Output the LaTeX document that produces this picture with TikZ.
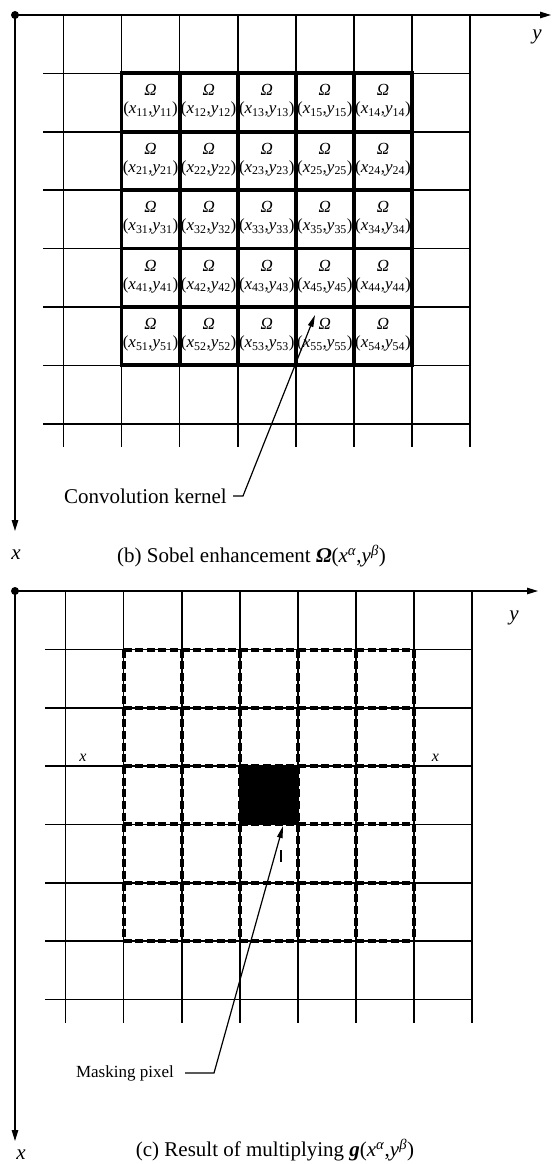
\documentclass[tikz,border=0pt]{standalone}
\usepackage{fontspec}
\setmainfont{Liberation Serif}
\usetikzlibrary{arrows.meta}
\tikzset{
  gridline/.style={line width=1.6pt},
  kernelline/.style={line width=3.8pt, line cap=rect},
  dashline/.style={line width=4pt, dash pattern=on 8pt off 3.6pt},
  axisline/.style={line width=1.3pt, -{Triangle[length=11pt,width=6.5pt]}},
  pointer/.style={line width=1.2pt, -{Triangle[length=12pt,width=5.5pt]}},
  celltext/.style={font=\fontsize{17}{19}\selectfont, inner sep=0pt},
  labeltext/.style={font=\fontsize{21}{24}\selectfont, inner sep=0pt},
  axlabel/.style={font=\fontsize{21}{24}\selectfont\itshape, inner sep=0pt},
  smalllabel/.style={font=\fontsize{16}{18}\selectfont\itshape, inner sep=0pt},
}
\begin{document}
\begin{tikzpicture}[x=1pt,y=-1pt]
\useasboundingbox[fill=white] (0,0) rectangle (552,1164);

% ---------------- top panel (b) ----------------
\coordinate (o1) at (15,15);
\coordinate (yend1) at (551,15);
\coordinate (xend1) at (15,531);
\foreach \i in {0,...,7}
  \draw[gridline] ({63.4+58.1*\i},15) -- ({63.4+58.1*\i},447);
\foreach \j in {0,...,6}
  \draw[gridline] (43,{73.3+58.4*\j}) -- (470.2,{73.3+58.4*\j});
\foreach \i in {1,...,6}
  \draw[kernelline] ({63.4+58.1*\i},73.3) -- ({63.4+58.1*\i},365.3);
\foreach \j in {0,...,5}
  \draw[kernelline] (121.5,{73.3+58.4*\j}) -- (412,{73.3+58.4*\j});
\draw[axisline] (o1) -- (yend1);
\draw[axisline] (o1) -- (xend1);
\fill (o1) circle (4);

\foreach \r in {1,...,5} {
  \foreach \c/\k in {1/1,2/2,3/3,4/5,5/4} {
    \node[celltext] (om\r\c) at ({63.4+58.1*\c+29.05},{73.3+58.4*(\r-1)+17}) {\textit{Ω}};
    \node[celltext] (co\r\c) at ({63.4+58.1*\c+29.05},{73.3+58.4*(\r-1)+36.5})
      {(\textit{x}\textsubscript{\r\k},\textit{y}\textsubscript{\r\k})};
  }
}

\node[labeltext, anchor=east] (ck) at (227,496) {Convolution kernel};
\coordinate (cktip) at (315,315);
\draw[pointer] ([xshift=6pt]ck.east) -- ([xshift=16pt]ck.east) -- (cktip);

\node[axlabel] (xl1) at (16,555) {x};
\node[axlabel] (yl1) at (537,37) {y};
\node[labeltext] (capb) at (251.5,556)
  {(b) Sobel enhancement \textbf{\textit{Ω}}(\textit{x}\textsuperscript{\textit{α}},\textit{y}\textsuperscript{\textit{β}})};

% ---------------- bottom panel (c) ----------------
\coordinate (o2) at (15,591);
\coordinate (yend2) at (538,591);
\coordinate (xend2) at (15,1141);
\foreach \i in {0,...,7}
  \draw[gridline] ({65.5+58.1*\i},591) -- ({65.5+58.1*\i},1023);
\foreach \j in {0,...,6}
  \draw[gridline] (45,{649.5+58.3*\j}) -- (472.2,{649.5+58.3*\j});
% black masking pixel
\fill ({65.5+58.1*3},{649.5+58.3*2}) rectangle ({65.5+58.1*4},{649.5+58.3*3});
% dashed 5x5 region
\foreach \i in {1,...,6}
  \foreach \j in {0,...,4}
    \draw[dashline] ({65.5+58.1*\i},{649.5+58.3*\j}) -- ({65.5+58.1*\i},{649.5+58.3*(\j+1)});
\foreach \j in {0,...,5}
  \foreach \i in {1,...,5}
    \draw[dashline] ({65.5+58.1*\i},{649.5+58.3*\j}) -- ({65.5+58.1*(\i+1)},{649.5+58.3*\j});
\draw[axisline] (o2) -- (yend2);
\draw[axisline] (o2) -- (xend2);
\fill (o2) circle (4);

\node[smalllabel] (xa) at (83,758) {x};
\node[smalllabel] (xb) at (435.5,758) {x};
\draw[line width=1.2pt] (281,850) -- (281,862);

\node[celltext, anchor=east] (mp) at (174,1073) {Masking pixel};
\coordinate (mptip) at (283,826);
\draw[pointer] ([xshift=11pt]mp.east) -- ([xshift=40pt]mp.east) -- (mptip);

\node[axlabel] (yl2) at (514,618) {y};
\node[axlabel] (xl2) at (21,1155) {x};
\node[labeltext] (capc) at (275,1150)
  {(c) Result of multiplying \textbf{\textit{g}}(\textit{x}\textsuperscript{\textit{α}},\textit{y}\textsuperscript{\textit{β}})};
\end{tikzpicture}
\end{document}
